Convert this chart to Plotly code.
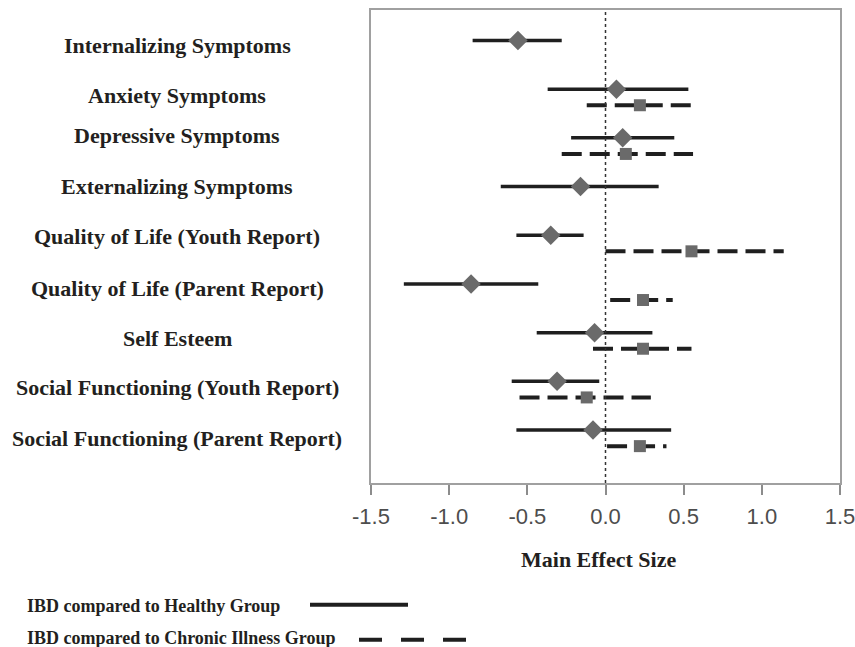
import plotly.graph_objects as go

outcomes = [
    "Internalizing Symptoms",
    "Anxiety Symptoms",
    "Depressive Symptoms",
    "Externalizing Symptoms",
    "Quality of Life (Youth Report)",
    "Quality of Life (Parent Report)",
    "Self Esteem",
    "Social Functioning (Youth Report)",
    "Social Functioning (Parent Report)",
]

# IBD compared to Healthy Group (None = not reported)
healthy_es = [-0.56, 0.07, 0.11, -0.16, -0.35, -0.86, -0.07, -0.31, -0.08]
healthy_lo = [-0.85, -0.37, -0.22, -0.67, -0.57, -1.29, -0.44, -0.60, -0.57]
healthy_hi = [-0.28, 0.53, 0.44, 0.34, -0.14, -0.43, 0.30, -0.04, 0.42]

# IBD compared to Chronic Illness Group
chronic_es = [None, 0.22, 0.13, None, 0.55, 0.24, 0.24, -0.12, 0.22]
chronic_lo = [None, -0.12, -0.28, None, 0.00, 0.03, -0.08, -0.55, 0.01]
chronic_hi = [None, 0.55, 0.56, None, 1.14, 0.43, 0.55, 0.29, 0.39]

series_names = ["IBD compared to Healthy Group", "IBD compared to Chronic Illness Group"]
x_ticks = [-1.5, -1.0, -0.5, 0.0, 0.5, 1.0, 1.5]

# ---- layout helpers (screen pixels; body margin removed below) ----
W, H = 855, 647
L, R, T, B = 371, 840, 9.5, 483
SQ_OFF = 0.33
label_adj = [0.10, 0.12, -0.04, -0.01, 0.03, 0.09, 0.13, 0.13, 0.18]
LINE_C = "#1f1f1f"
MARK_C = "#6a6a6a"


def px_x(p):
    return (p - L) / (R - L)


def px_y(p):
    return (B - p) / (B - T)


def seg(lo, hi, offset):
    xs, ys = [], []
    for i, (a, b) in enumerate(zip(lo, hi)):
        if a is None:
            continue
        xs += [a, b, None]
        ys += [i + offset, i + offset, None]
    return xs, ys


fig = go.Figure()

hx, hy = seg(healthy_lo, healthy_hi, 0)
fig.add_trace(go.Scatter(x=hx, y=hy, mode="lines", name=series_names[0],
                         line=dict(color=LINE_C, width=3.5), showlegend=False))
cx, cy = seg(chronic_lo, chronic_hi, SQ_OFF)
fig.add_trace(go.Scatter(x=cx, y=cy, mode="lines", name=series_names[1],
                         line=dict(color=LINE_C, width=4, dash="20px,8px"), showlegend=False))

fig.add_trace(go.Scatter(
    x=[v for v in healthy_es if v is not None],
    y=[i for i, v in enumerate(healthy_es) if v is not None],
    mode="markers", marker=dict(symbol="diamond", size=15, color=MARK_C),
    showlegend=False))
fig.add_trace(go.Scatter(
    x=[v for v in chronic_es if v is not None],
    y=[i + SQ_OFF for i, v in enumerate(chronic_es) if v is not None],
    mode="markers", marker=dict(symbol="square", size=12, color=MARK_C),
    showlegend=False))

row_px = 48.75
y_top = (T - 40) / row_px
y_bot = (B - 40) / row_px

shapes = [
    dict(type="line", xref="x", yref="paper", x0=0, x1=0, y0=0, y1=1,
         line=dict(color="#333333", width=1.5, dash="dot")),
    dict(type="line", xref="paper", yref="paper", x0=px_x(310), x1=px_x(408),
         y0=px_y(605), y1=px_y(605), line=dict(color=LINE_C, width=4)),
    dict(type="line", xref="paper", yref="paper", x0=px_x(359), x1=px_x(467),
         y0=px_y(640), y1=px_y(640), line=dict(color=LINE_C, width=4, dash="23px,19px")),
]

serif = "Liberation Serif, Times New Roman, serif"
annotations = []
for i, name in enumerate(outcomes):
    annotations.append(dict(
        x=px_x(177), xref="paper", y=i + label_adj[i], yref="y",
        text="<b>" + name + "</b>", showarrow=False, xanchor="center", yanchor="middle",
        font=dict(family=serif, size=22, color="#231f20")))
annotations.append(dict(
    x=px_x(598), xref="paper", y=px_y(560), yref="paper", text="<b>Main Effect Size</b>",
    showarrow=False, xanchor="center", yanchor="middle",
    font=dict(family=serif, size=22, color="#231f20")))
annotations.append(dict(
    x=px_x(25), xref="paper", y=px_y(606), yref="paper", text="<b>" + series_names[0] + "</b>",
    showarrow=False, xanchor="left", yanchor="middle",
    font=dict(family=serif, size=18, color="#231f20")))
annotations.append(dict(
    x=px_x(25), xref="paper", y=px_y(638), yref="paper", text="<b>" + series_names[1] + "</b>",
    showarrow=False, xanchor="left", yanchor="middle",
    font=dict(family=serif, size=18, color="#231f20")))

fig.update_layout(
    width=W, height=H,
    margin=dict(l=L, r=W - R, t=T, b=H - B, pad=0, autoexpand=False),
    paper_bgcolor="white", plot_bgcolor="white",
    shapes=shapes, annotations=annotations,
    xaxis=dict(range=[-1.5, 1.5], tickvals=x_ticks, ticktext=[f"{v:.1f}" for v in x_ticks],
               ticks="outside", ticklen=10, tickwidth=1.5, tickcolor="#8c8c8c",
               ticklabelstandoff=3, ticklabeloverflow="allow", automargin=False,
               showline=True, linecolor="#a0a0a0", linewidth=2, mirror=True,
               showgrid=False, zeroline=False,
               tickfont=dict(family="Liberation Sans, Arial, sans-serif", size=22, color="#4d4d4d")),
    yaxis=dict(range=[y_bot, y_top], showticklabels=False, ticks="", showgrid=False,
               automargin=False,
               zeroline=False, showline=True, linecolor="#a0a0a0", linewidth=2, mirror=True),
)

fig.write_html(
    "out.html",
    config={"displayModeBar": False},
    post_script="document.body.style.margin='0';document.body.style.overflow='hidden';",
)
